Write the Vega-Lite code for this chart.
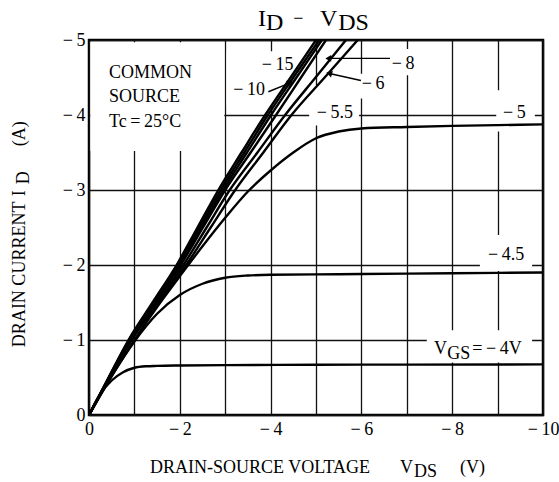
{
  "$schema": "https://vega.github.io/schema/vega-lite/v6.json",
  "autosize": "none",
  "width": 454,
  "height": 375,
  "padding": {"left": 89, "top": 40, "right": 16, "bottom": 67},
  "background": "white",
  "config": {
    "view": {"stroke": "#000", "strokeWidth": 2.5},
    "font": "Liberation Serif",
    "axis": {
      "labelFont": "Liberation Serif", "labelFontSize": 18, "labelColor": "#000",
      "grid": true, "gridColor": "#111", "gridWidth": 1.3, "gridOpacity": 1,
      "ticks": false, "domain": false, "labelFlush": false, "title": null
    }
  },
  "datasets": {
    "curves": [
      {"vgs":"-15","vds":0,"id":0},{"vgs":"-15","vds":-0.43,"id":-0.5},{"vgs":"-15","vds":-0.87,"id":-1},{"vgs":"-15","vds":-1.4,"id":-1.5},{"vgs":"-15","vds":-1.93,"id":-2},{"vgs":"-15","vds":-2.39,"id":-2.5},{"vgs":"-15","vds":-2.85,"id":-3},{"vgs":"-15","vds":-3.36,"id":-3.5},{"vgs":"-15","vds":-3.88,"id":-4},{"vgs":"-15","vds":-4.44,"id":-4.5},{"vgs":"-15","vds":-5.0,"id":-5},
      {"vgs":"-10","vds":0,"id":0},{"vgs":"-10","vds":-0.44,"id":-0.5},{"vgs":"-10","vds":-0.88,"id":-1},{"vgs":"-10","vds":-1.42,"id":-1.5},{"vgs":"-10","vds":-1.96,"id":-2},{"vgs":"-10","vds":-2.43,"id":-2.5},{"vgs":"-10","vds":-2.9,"id":-3},{"vgs":"-10","vds":-3.42,"id":-3.5},{"vgs":"-10","vds":-3.94,"id":-4},{"vgs":"-10","vds":-4.5,"id":-4.5},{"vgs":"-10","vds":-5.07,"id":-5},
      {"vgs":"-8","vds":0,"id":0},{"vgs":"-8","vds":-0.44,"id":-0.5},{"vgs":"-8","vds":-0.89,"id":-1},{"vgs":"-8","vds":-1.44,"id":-1.5},{"vgs":"-8","vds":-1.99,"id":-2},{"vgs":"-8","vds":-2.47,"id":-2.5},{"vgs":"-8","vds":-2.95,"id":-3},{"vgs":"-8","vds":-3.48,"id":-3.5},{"vgs":"-8","vds":-4.01,"id":-4},{"vgs":"-8","vds":-4.57,"id":-4.5},{"vgs":"-8","vds":-5.13,"id":-5},
      {"vgs":"-7","vds":0,"id":0},{"vgs":"-7","vds":-0.45,"id":-0.5},{"vgs":"-7","vds":-0.9,"id":-1},{"vgs":"-7","vds":-1.46,"id":-1.5},{"vgs":"-7","vds":-2.02,"id":-2},{"vgs":"-7","vds":-2.51,"id":-2.5},{"vgs":"-7","vds":-3.0,"id":-3},{"vgs":"-7","vds":-3.56,"id":-3.5},{"vgs":"-7","vds":-4.12,"id":-4},{"vgs":"-7","vds":-4.67,"id":-4.5},{"vgs":"-7","vds":-5.22,"id":-5},
      {"vgs":"-6","vds":0,"id":0},{"vgs":"-6","vds":-0.45,"id":-0.5},{"vgs":"-6","vds":-0.92,"id":-1},{"vgs":"-6","vds":-1.5,"id":-1.5},{"vgs":"-6","vds":-2.08,"id":-2},{"vgs":"-6","vds":-2.59,"id":-2.5},{"vgs":"-6","vds":-3.1,"id":-3},{"vgs":"-6","vds":-3.71,"id":-3.5},{"vgs":"-6","vds":-4.32,"id":-4},{"vgs":"-6","vds":-4.99,"id":-4.5},{"vgs":"-6","vds":-5.66,"id":-5},
      {"vgs":"-5.5","vds":0,"id":0},{"vgs":"-5.5","vds":-0.46,"id":-0.5},{"vgs":"-5.5","vds":-0.94,"id":-1},{"vgs":"-5.5","vds":-1.54,"id":-1.5},{"vgs":"-5.5","vds":-2.14,"id":-2},{"vgs":"-5.5","vds":-2.68,"id":-2.5},{"vgs":"-5.5","vds":-3.22,"id":-3},{"vgs":"-5.5","vds":-3.84,"id":-3.5},{"vgs":"-5.5","vds":-4.46,"id":-4},{"vgs":"-5.5","vds":-5.19,"id":-4.5},{"vgs":"-5.5","vds":-5.92,"id":-5},
      {"vgs":"-5","vds":0,"id":0},{"vgs":"-5","vds":-0.5,"id":-0.52},{"vgs":"-5","vds":-1,"id":-1.0},{"vgs":"-5","vds":-1.5,"id":-1.44},{"vgs":"-5","vds":-2,"id":-1.85},{"vgs":"-5","vds":-2.5,"id":-2.25},{"vgs":"-5","vds":-3,"id":-2.63},{"vgs":"-5","vds":-3.5,"id":-2.98},{"vgs":"-5","vds":-4,"id":-3.26},{"vgs":"-5","vds":-4.5,"id":-3.5},{"vgs":"-5","vds":-5,"id":-3.69},{"vgs":"-5","vds":-5.5,"id":-3.78},{"vgs":"-5","vds":-6,"id":-3.82},{"vgs":"-5","vds":-7,"id":-3.84},{"vgs":"-5","vds":-8,"id":-3.855},{"vgs":"-5","vds":-9,"id":-3.865},{"vgs":"-5","vds":-10,"id":-3.875},
      {"vgs":"-4.5","vds":0,"id":0},{"vgs":"-4.5","vds":-0.5,"id":-0.52},{"vgs":"-4.5","vds":-1,"id":-0.98},{"vgs":"-4.5","vds":-1.5,"id":-1.35},{"vgs":"-4.5","vds":-2,"id":-1.6},{"vgs":"-4.5","vds":-2.5,"id":-1.75},{"vgs":"-4.5","vds":-3,"id":-1.83},{"vgs":"-4.5","vds":-3.5,"id":-1.86},{"vgs":"-4.5","vds":-4,"id":-1.87},{"vgs":"-4.5","vds":-5,"id":-1.875},{"vgs":"-4.5","vds":-6,"id":-1.88},{"vgs":"-4.5","vds":-8,"id":-1.89},{"vgs":"-4.5","vds":-10,"id":-1.9},
      {"vgs":"-4","vds":0,"id":0},{"vgs":"-4","vds":-0.25,"id":-0.28},{"vgs":"-4","vds":-0.5,"id":-0.46},{"vgs":"-4","vds":-0.75,"id":-0.57},{"vgs":"-4","vds":-1,"id":-0.63},{"vgs":"-4","vds":-1.25,"id":-0.65},{"vgs":"-4","vds":-1.5,"id":-0.655},{"vgs":"-4","vds":-2,"id":-0.66},{"vgs":"-4","vds":-3,"id":-0.665},{"vgs":"-4","vds":-5,"id":-0.67},{"vgs":"-4","vds":-7,"id":-0.672},{"vgs":"-4","vds":-10,"id":-0.675}
    ],
    "boxes": [
      {"name":"note","v1":-0.03,"v2":-2.98,"i1":-3.52,"i2":-4.97},
      {"name":"15-10","v1":-3.03,"v2":-4.45,"i1":-4.13,"i2":-4.85},
      {"name":"8","v1":-6.45,"v2":-7.45,"i1":-4.53,"i2":-4.88},
      {"name":"6","v1":-5.85,"v2":-6.6,"i1":-4.22,"i2":-4.55},
      {"name":"5.5","v1":-4.85,"v2":-5.95,"i1":-3.86,"i2":-4.4},
      {"name":"5","v1":-8.97,"v2":-9.82,"i1":-3.78,"i2":-4.33},
      {"name":"4.5","v1":-8.61,"v2":-9.76,"i1":-1.92,"i2":-2.4},
      {"name":"4","v1":-7.44,"v2":-9.76,"i1":-0.7,"i2":-1.13}
    ],
    "arrows": [
      {"name":"a10","v1":-3.95,"i1":-4.31,"v2":-4.42,"i2":-4.425},
      {"name":"a8","v1":-6.63,"i1":-4.755,"v2":-5.3,"i2":-4.755},
      {"name":"a6","v1":-5.99,"i1":-4.46,"v2":-5.32,"i2":-4.55}
    ],
    "heads": [
      {"name":"a10","v":-4.43,"i":-4.43},
      {"name":"a8","v":-5.27,"i":-4.755},
      {"name":"a6","v":-5.29,"i":-4.555}
    ],
    "labels": [
      {"t":"COMMON","v":-0.441,"i":-4.497},
      {"t":"SOURCE","v":-0.441,"i":-4.172},
      {"t":"Tc\u2009=\u200925°C","v":-0.441,"i":-3.839},
      {"t":"\u2212\u200915","v":-3.804,"i":-4.603},
      {"t":"\u2212\u200910","v":-3.178,"i":-4.261},
      {"t":"\u2212\u20098","v":-6.667,"i":-4.617},
      {"t":"\u2212\u20096","v":-6.007,"i":-4.35},
      {"t":"\u2212\u20095.5","v":-5.015,"i":-3.964},
      {"t":"\u2212\u20095","v":-9.119,"i":-3.964},
      {"t":"\u2212\u20094.5","v":-8.789,"i":-2.064},
      {"t":"V","v":-7.599,"i":-0.82},
      {"t":"GS","v":-7.89,"i":-0.75},
      {"t":"=\u2009\u2212\u20094V","v":-8.44,"i":-0.82},
      {"t":"DRAIN-SOURCE VOLTAGE","v":-1.344,"i":0.772},
      {"t":"V","v":-6.85,"i":0.772},
      {"t":"DS","v":-7.16,"i":0.826},
      {"t":"(V)","v":-8.172,"i":0.772},
      {"t":"\u2212","v":-4.5,"i":-5.22}
    ],
    "vlabels": [
      {"t":"DRAIN CURRENT","v":1.41,"i":-0.905},
      {"t":"I","v":1.41,"i":-2.916},
      {"t":"D","v":1.33,"i":-3.076},
      {"t":"(A)","v":1.41,"i":-3.582}
    ],
    "heading": [
      {"t":"I","v":-3.722,"i":-5.193},
      {"t":"D","v":-3.9,"i":-5.127},
      {"t":"V","v":-5.088,"i":-5.193},
      {"t":"DS","v":-5.49,"i":-5.127}
    ]
  },
  "layer": [
    {
      "data": {"name": "boxes"},
      "mark": {"type": "rect", "fill": "white", "stroke": null},
      "encoding": {
        "x": {"field": "v1", "type": "quantitative", "scale": {"domain": [0, -10], "nice": false, "zero": false},
              "axis": {"values": [0,-1,-2,-3,-4,-5,-6,-7,-8,-9,-10], "labelPadding": 5,
                       "labelExpr": "datum.value % 2 != 0 ? '' : (datum.value == 0 ? '0' : '\u2212\u2009' + format(-datum.value, 'd'))"}},
        "x2": {"field": "v2"},
        "y": {"field": "i1", "type": "quantitative", "scale": {"domain": [0, -5], "nice": false, "zero": false},
              "axis": {"values": [0,-0.5,-1,-1.5,-2,-2.5,-3,-3.5,-4,-4.5,-5], "labelPadding": 4,
                       "labelExpr": "datum.value % 1 != 0 ? '' : (datum.value == 0 ? '0' : '\u2212\u2009' + format(-datum.value, 'd'))"}},
        "y2": {"field": "i2"}
      }
    },
    {
      "data": {"name": "curves"},
      "mark": {"type": "line", "color": "#000", "strokeWidth": 2.4, "interpolate": "monotone", "clip": true},
      "encoding": {
        "x": {"field": "vds", "type": "quantitative"},
        "y": {"field": "id", "type": "quantitative"},
        "detail": {"field": "vgs"},
        "order": {"field": "vds", "sort": "descending"}
      }
    },
    {
      "data": {"name": "arrows"},
      "mark": {"type": "rule", "color": "#000", "strokeWidth": 1.4},
      "encoding": {
        "x": {"field": "v1", "type": "quantitative"},
        "y": {"field": "i1", "type": "quantitative"},
        "x2": {"field": "v2"},
        "y2": {"field": "i2"}
      }
    },
    {
      "data": {"name": "heads"},
      "transform": [{"filter": "datum.name == 'a10'"}],
      "mark": {"type": "point", "shape": "triangle-right", "filled": true, "color": "#000", "size": 45, "angle": 338, "opacity": 1},
      "encoding": {"x": {"field": "v", "type": "quantitative"}, "y": {"field": "i", "type": "quantitative"}}
    },
    {
      "data": {"name": "heads"},
      "transform": [{"filter": "datum.name == 'a8'"}],
      "mark": {"type": "point", "shape": "triangle-left", "filled": true, "color": "#000", "size": 45, "opacity": 1},
      "encoding": {"x": {"field": "v", "type": "quantitative"}, "y": {"field": "i", "type": "quantitative"}}
    },
    {
      "data": {"name": "heads"},
      "transform": [{"filter": "datum.name == 'a6'"}],
      "mark": {"type": "point", "shape": "triangle-left", "filled": true, "color": "#000", "size": 45, "angle": 16, "opacity": 1},
      "encoding": {"x": {"field": "v", "type": "quantitative"}, "y": {"field": "i", "type": "quantitative"}}
    },
    {
      "data": {"name": "labels"},
      "mark": {"type": "text", "font": "Liberation Serif", "fontSize": 18, "color": "#000", "align": "left", "baseline": "alphabetic"},
      "encoding": {"x": {"field": "v", "type": "quantitative"}, "y": {"field": "i", "type": "quantitative"}, "text": {"field": "t"}}
    },
    {
      "data": {"name": "vlabels"},
      "mark": {"type": "text", "font": "Liberation Serif", "fontSize": 18, "color": "#000", "align": "left", "baseline": "alphabetic", "angle": 270},
      "encoding": {"x": {"field": "v", "type": "quantitative"}, "y": {"field": "i", "type": "quantitative"}, "text": {"field": "t"}}
    },
    {
      "data": {"name": "heading"},
      "mark": {"type": "text", "font": "Liberation Serif", "fontSize": 24, "color": "#000", "align": "left", "baseline": "alphabetic"},
      "encoding": {"x": {"field": "v", "type": "quantitative"}, "y": {"field": "i", "type": "quantitative"}, "text": {"field": "t"}}
    }
  ]
}
